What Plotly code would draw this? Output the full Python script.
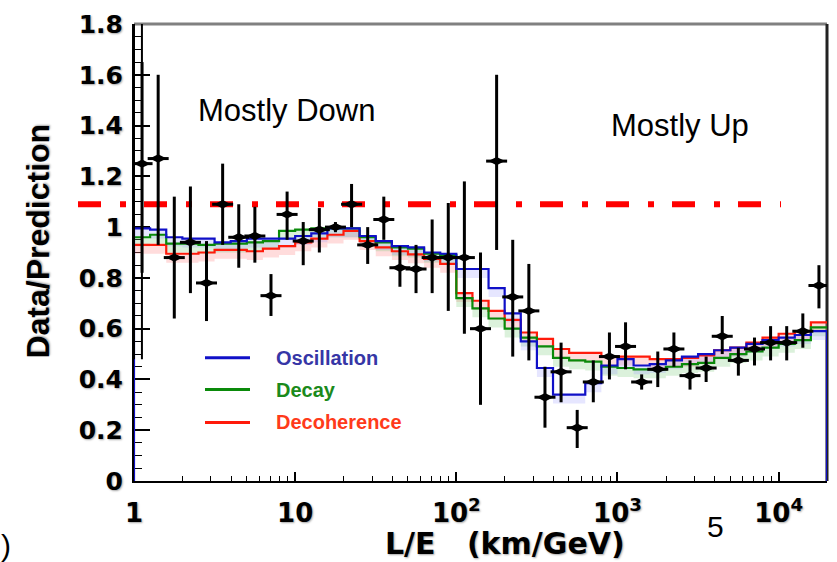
import numpy as np
import plotly.graph_objects as go

# ---------------- data ----------------
# 43 logarithmic L/E bins (0.1 decade wide) from 1 to 10^4.3 km/GeV
log_le_min = 0.0
log_le_max = 4.3
n_bins = 43

data_ratio = [1.25, 1.27, 0.88, 0.94, 0.78, 1.09, 0.96, 0.965, 0.73, 1.05,
              0.945, 0.99, 1.00, 1.09, 0.93, 1.03, 0.84, 0.835, 0.88, 0.88,
              0.88, 0.60, 1.26, 0.725, 0.67, 0.33, 0.43, 0.21, 0.39, 0.49,
              0.53, 0.39, 0.44, 0.52, 0.415, 0.445, 0.57, 0.475, 0.52, 0.545,
              0.545, 0.59, 0.77]
data_hi = [1.65, 1.60, 1.12, 1.16, 0.945, 1.25, 1.09, 1.08, 0.815, 1.14,
           1.02, 1.075, 1.02, 1.17, 1.00, 1.12, 0.925, 0.93, 1.03, 1.095,
           1.18, 0.90, 1.60, 0.95, 0.855, 0.45, 0.545, 0.28, 0.475, 0.585,
           0.625, 0.42, 0.51, 0.585, 0.475, 0.49, 0.65, 0.525, 0.565, 0.61,
           0.61, 0.66, 0.85]
data_lo = [0.82, 0.93, 0.64, 0.74, 0.63, 0.93, 0.84, 0.86, 0.65, 0.95,
           0.85, 0.90, 0.98, 1.00, 0.855, 0.95, 0.765, 0.74, 0.74, 0.67,
           0.58, 0.30, 0.91, 0.49, 0.475, 0.21, 0.31, 0.13, 0.31, 0.40,
           0.44, 0.36, 0.37, 0.45, 0.36, 0.39, 0.50, 0.415, 0.455, 0.475,
           0.475, 0.525, 0.68]

oscillation = [0.995, 0.99, 0.96, 0.955, 0.955, 0.94, 0.945, 0.955, 0.955, 0.955,
               0.965, 0.975, 0.995, 0.995, 0.965, 0.945, 0.925, 0.92, 0.90, 0.895,
               0.835, 0.835, 0.76, 0.66, 0.55, 0.445, 0.34, 0.34, 0.385, 0.455,
               0.48, 0.455, 0.46, 0.475, 0.49, 0.50, 0.515, 0.525, 0.54, 0.555,
               0.565, 0.575, 0.59]
decay = [0.96, 0.97, 0.935, 0.935, 0.93, 0.935, 0.935, 0.94, 0.945, 0.985,
         0.99, 0.995, 0.995, 0.995, 0.96, 0.94, 0.92, 0.915, 0.895, 0.89,
         0.72, 0.68, 0.64, 0.60, 0.565, 0.53, 0.485, 0.475, 0.47, 0.45,
         0.445, 0.44, 0.44, 0.45, 0.46, 0.465, 0.485, 0.50, 0.51, 0.525,
         0.54, 0.555, 0.605]
decoherence = [0.93, 0.93, 0.895, 0.895, 0.90, 0.91, 0.91, 0.905, 0.915, 0.925,
               0.94, 0.955, 0.97, 0.985, 0.945, 0.92, 0.905, 0.893, 0.875, 0.855,
               0.74, 0.71, 0.67, 0.635, 0.585, 0.56, 0.52, 0.505, 0.505, 0.49,
               0.49, 0.49, 0.48, 0.48, 0.485, 0.495, 0.515, 0.525, 0.545, 0.565,
               0.58, 0.59, 0.625]

reference_level = 1.09          # red dash-dot line
x_tick_vals = [1, 10, 100, 1000, 10000]
x_tick_text = ["1", "10", "10<sup>2</sup>", "10<sup>3</sup>", "10<sup>4</sup>"]
legend_names = ["Oscillation", "Decay", "Decoherence"]

# ---------------- derived ----------------
bin_w = (log_le_max - log_le_min) / n_bins
edges = 10 ** (log_le_min + bin_w * np.arange(n_bins + 1))
centers = 10 ** (log_le_min + bin_w * (np.arange(n_bins) + 0.5))

def step(vals, closed=False):
    xs = list(edges)
    ys = list(vals) + [vals[-1]]
    if closed:
        xs = [edges[0]] + xs + [edges[-1]]
        ys = [0] + ys + [0]
    return xs, ys

BLUE = "#1010c8"
GREEN = "#0a8a0a"
RED = "#ff1a0a"

fig = go.Figure()

# faint systematic bands under the model lines
band_specs = [(decoherence, "rgba(255,140,140,0.30)"),
              (decay, "rgba(110,200,110,0.25)"),
              (oscillation, "rgba(140,140,255,0.22)")]
for vals, col in band_specs:
    lo = [v - 0.035 for v in vals]
    xs, ys = step(lo)
    fig.add_trace(go.Scatter(x=xs, y=ys, mode="lines", line=dict(width=0, shape="hv"),
                             hoverinfo="skip", showlegend=False))
    xs, ys = step(vals)
    fig.add_trace(go.Scatter(x=xs, y=ys, mode="lines", line=dict(width=0, shape="hv"),
                             fill="tonexty", fillcolor=col, hoverinfo="skip", showlegend=False))

# model histograms
for vals, col, closed in [(decoherence, RED, False), (decay, GREEN, False), (oscillation, BLUE, True)]:
    xs, ys = step(vals, closed)
    fig.add_trace(go.Scatter(x=xs, y=ys, mode="lines", line=dict(color=col, width=2.2, shape="hv"),
                             showlegend=False))

# left-edge ladder artefact
ladder_x = [1.0, 1.12]
ladder_y = [0.48, 1.8]
for lx in ladder_x:
    fig.add_trace(go.Scatter(x=[lx, lx], y=ladder_y, mode="lines",
                             line=dict(color="black", width=2), showlegend=False, hoverinfo="skip"))

# data points
r = np.array(data_ratio)
fig.add_trace(go.Scatter(
    x=centers, y=r, mode="markers",
    marker=dict(symbol="diamond-wide", size=12, color="black", line=dict(width=0)),
    error_y=dict(type="data", symmetric=False, array=np.array(data_hi) - r,
                 arrayminus=r - np.array(data_lo), thickness=3, width=0, color="black"),
    showlegend=False))
fig.add_trace(go.Scatter(
    x=centers, y=r, mode="markers",
    marker=dict(symbol="line-ew-open", size=15, color="black", line=dict(color="black", width=3)),
    showlegend=False, hoverinfo="skip"))

# ---------------- layout ----------------
L, R, T, B = 134, 10, 21, 81
W, H = 837, 562
pw, ph = W - L - R, H - T - B

def px(xp):
    return (xp - L) / pw

def py(yp):
    return (H - B - yp) / ph

shadow = "1px 1px 2px rgba(0,0,0,0.35)"

fig.update_layout(
    width=W, height=H, margin=dict(l=L, r=R, t=T, b=B),
    paper_bgcolor="white", plot_bgcolor="white",
    showlegend=False,
    xaxis=dict(type="log", range=[log_le_min, log_le_max], showgrid=False, zeroline=False,
               showline=True, linecolor="black", linewidth=2, layer="below traces",
               tickmode="array", tickvals=x_tick_vals, ticktext=x_tick_text,
               ticks="inside", ticklen=9, tickwidth=1.5, tickcolor="black",
               minor=dict(ticks="inside", ticklen=5, tickwidth=1.2, tickcolor="black",
                          tickmode="array",
                          tickvals=[m * 10 ** d for d in range(5) for m in range(2, 10)]),
               ticklabelstandoff=8,
               tickfont=dict(family="DejaVu Sans", size=26, color="black", weight="bold",
                             shadow=shadow)),
    yaxis=dict(range=[0, 1.8], showgrid=False, zeroline=False,
               showline=True, linecolor="black", linewidth=2, layer="below traces",
               tick0=0, dtick=0.2, ticks="inside", ticklen=16, tickwidth=1.5, tickcolor="black",
               minor=dict(ticks="inside", ticklen=8, tickwidth=1.2, tickcolor="black", dtick=0.05),
               ticklabelstandoff=4,
               tickfont=dict(family="DejaVu Sans", size=25, color="black", weight="bold",
                             shadow=shadow)),
)

# frame top / right
fig.add_shape(type="line", xref="paper", yref="paper", x0=0, x1=1, y0=1, y1=1,
              line=dict(color="#808080", width=3), layer="below")
fig.add_shape(type="line", xref="paper", yref="paper", x0=1, x1=1, y0=0, y1=1,
              line=dict(color="#222222", width=3), layer="below")

# red dash-dot reference line
fig.add_shape(type="line", xref="paper", yref="y", x0=px(78), x1=px(781),
              y0=reference_level, y1=reference_level,
              line=dict(color="#ff0000", width=6, dash="23px,19px,6px,18px"), layer="below")

# legend
leg_colors_line = [BLUE, GREEN, RED]
leg_colors_text = ["#3636a6", "#1b8a1b", "#ff3a1a"]
leg_y = [357, 389, 422]
for name, lc, tc, yy in zip(legend_names, leg_colors_line, leg_colors_text, leg_y):
    fig.add_shape(type="line", xref="paper", yref="paper", x0=px(205), x1=px(250),
                  y0=py(yy), y1=py(yy), line=dict(color=lc, width=3))
    fig.add_annotation(x=px(274), y=py(yy), xref="paper", yref="paper", text=name,
                       showarrow=False, xanchor="left", yanchor="middle",
                       font=dict(family="Liberation Sans", size=20, color=tc, weight="bold"))

# region labels
fig.add_annotation(x=px(286), y=py(108), xref="paper", yref="paper", text="Mostly Down",
                   showarrow=False, xanchor="center", yanchor="middle",
                   font=dict(family="Liberation Sans", size=31, color="black"))
fig.add_annotation(x=px(680), y=py(123), xref="paper", yref="paper", text="Mostly Up",
                   showarrow=False, xanchor="center", yanchor="middle",
                   font=dict(family="Liberation Sans", size=31, color="black"))

# axis titles
fig.add_annotation(x=px(505), y=py(544), xref="paper", yref="paper",
                   text="L/E\u00a0\u00a0\u00a0(km/GeV)", showarrow=False,
                   xanchor="center", yanchor="middle",
                   font=dict(family="DejaVu Sans", size=30, color="black", weight="bold",
                             shadow=shadow))
fig.add_annotation(x=px(38), y=py(240), xref="paper", yref="paper",
                   text="Data/Prediction", textangle=-90, showarrow=False,
                   xanchor="center", yanchor="middle",
                   font=dict(family="Liberation Sans", size=32, color="black", weight="bold",
                             shadow=shadow))

# stray slide text
fig.add_annotation(x=px(715), y=py(527), xref="paper", yref="paper", text="5",
                   showarrow=False, xanchor="center", yanchor="middle",
                   font=dict(family="Liberation Sans", size=30, color="black"))
fig.add_annotation(x=px(6), y=py(546), xref="paper", yref="paper", text=")",
                   showarrow=False, xanchor="center", yanchor="middle",
                   font=dict(family="Liberation Sans", size=30, color="black"))

fig.write_html("out.html")
